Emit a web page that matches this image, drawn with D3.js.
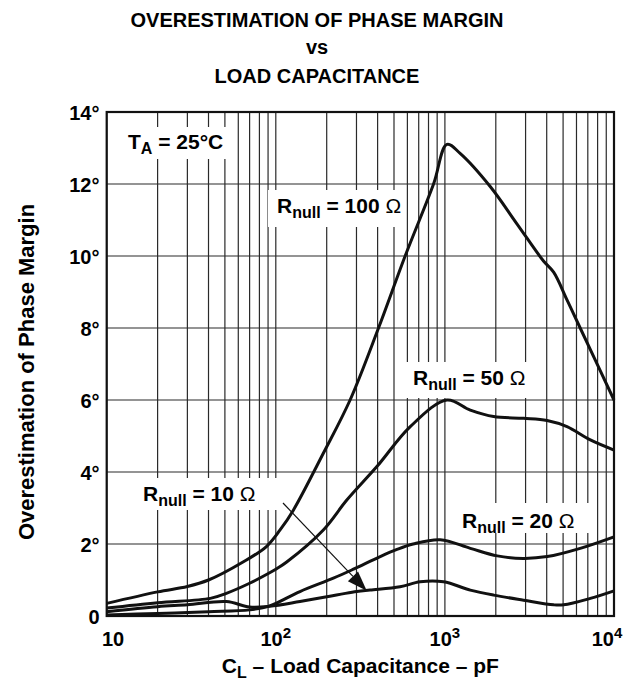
<!DOCTYPE html>
<html>
<head>
<meta charset="utf-8">
<script src="https://cdn.jsdelivr.net/npm/d3@7"></script>
<style>
  html, body { margin: 0; padding: 0; background: #fff; }
  svg { display: block; font-family: "Liberation Sans", Arial, Helvetica, sans-serif; font-weight: bold; }
</style>
</head>
<body>
<svg id="chart" width="634" height="683"></svg>
<script>
// Load capacitance (pF) and phase-margin overestimation (degrees) per null resistor
const cap100 = [10, 20, 30, 40, 64, 88, 106, 127, 191, 275, 405, 582, 857, 1028, 1230, 1853, 2679, 3828, 4395, 5272, 6310, 10000];
const pm100  = [0.35, 0.67, 0.82, 1.0, 1.5, 1.93, 2.39, 2.94, 4.52, 6.0, 8.0, 10.0, 12.0, 13.1, 12.85, 11.93, 10.88, 9.86, 9.55, 8.78, 8.0, 6.0];

const cap50 = [10, 20, 41, 51, 70, 92, 100, 116, 191, 263, 396, 624, 1028, 1413, 1941, 2917, 4018, 5272, 7244, 10000];
const pm50  = [0.22, 0.37, 0.49, 0.63, 0.91, 1.2, 1.3, 1.5, 2.39, 3.22, 4.15, 5.26, 6.0, 5.72, 5.54, 5.49, 5.43, 5.26, 4.89, 4.61];

const cap20 = [10, 20, 40, 70, 92, 139, 219, 288, 414, 521, 649, 938, 1413, 2042, 2904, 4027, 6310, 10000];
const pm20  = [0.03, 0.07, 0.12, 0.17, 0.28, 0.68, 1.05, 1.3, 1.65, 1.85, 2.0, 2.12, 1.88, 1.67, 1.6, 1.65, 1.88, 2.2];

const cap10 = [10, 20, 30, 51, 70, 92, 139, 301, 361, 543, 714, 982, 1413, 1941, 2917, 4395, 5035, 7244, 10000];
const pm10  = [0.12, 0.26, 0.31, 0.4, 0.25, 0.27, 0.4, 0.68, 0.72, 0.81, 0.95, 0.95, 0.72, 0.58, 0.44, 0.31, 0.31, 0.49, 0.70];

const yTicks = [0, 2, 4, 6, 8, 10, 12, 14];
const xDecades = [10, 100, 1000, 10000];
const xExponents = ["", "2", "3", "4"];

const svg = d3.select("#chart");
const plotL = 106.7, plotR = 614, plotT = 112, plotB = 616;
const plotMid = (plotL + plotR) / 2;

const x = d3.scaleLog().domain([10, 10000]).range([plotL, plotR]);
const y = d3.scaleLinear().domain([0, 14]).range([plotB, plotT]);

// Minor and major vertical grid (1..9 per decade)
const gridX = [];
for (let d = 10; d < 10000; d *= 10) for (let k = 1; k < 10; k++) gridX.push(d * k);
gridX.push(10000);

const grid = svg.append("g").attr("stroke", "#2a2a2a").attr("stroke-width", 1.2);
grid.selectAll("line.v").data(gridX).join("line").attr("class", "v")
  .attr("x1", d => x(d)).attr("x2", d => x(d)).attr("y1", plotT).attr("y2", plotB);
grid.selectAll("line.h").data(yTicks).join("line").attr("class", "h")
  .attr("x1", plotL).attr("x2", plotR).attr("y1", d => y(d)).attr("y2", d => y(d));

// White boxes that clear the grid behind the annotations
const boxes = [
  [120, 127, 114, 32],
  [268, 190, 138, 37],
  [405, 362, 136, 36],
  [132, 478, 146, 32],
  [452, 503, 138, 30]
];
svg.append("g").selectAll("rect").data(boxes).join("rect")
  .attr("x", d => d[0]).attr("y", d => d[1]).attr("width", d => d[2]).attr("height", d => d[3])
  .attr("fill", "#fff");

// Frame
svg.append("rect").attr("x", plotL).attr("y", plotT).attr("width", plotR - plotL).attr("height", plotB - plotT)
  .attr("fill", "none").attr("stroke", "#111").attr("stroke-width", 2.2);

// Curves
const line = d3.line().x(d => x(d[0])).y(d => y(d[1])).curve(d3.curveCatmullRom.alpha(0.5));
const series = [[cap100, pm100], [cap50, pm50], [cap20, pm20], [cap10, pm10]];
svg.append("g").selectAll("path").data(series).join("path")
  .attr("d", s => line(s[0].map((c, i) => [c, s[1][i]])))
  .attr("fill", "none").attr("stroke", "#111").attr("stroke-width", 3).attr("stroke-linejoin", "round");

// Pointer from the 10 ohm label to its curve
const ax0 = 283, ay0 = 503, ax1 = x(345), ay1 = y(0.7);
const ang = Math.atan2(ay1 - ay0, ax1 - ax0);
const hl = 20, hw = 7;
const bx = ax1 - hl * Math.cos(ang), by = ay1 - hl * Math.sin(ang);
svg.append("line").attr("x1", ax0).attr("y1", ay0).attr("x2", bx).attr("y2", by)
  .attr("stroke", "#111").attr("stroke-width", 1.2);
svg.append("path")
  .attr("d", `M${ax1},${ay1}L${bx + hw * Math.sin(ang)},${by - hw * Math.cos(ang)}L${bx - hw * Math.sin(ang)},${by + hw * Math.cos(ang)}Z`)
  .attr("fill", "#111");

// Y tick labels
svg.append("g").selectAll("text").data(yTicks).join("text")
  .attr("x", 99.5).attr("y", d => y(d) + 7.5).attr("text-anchor", "end").attr("font-size", 20)
  .text(d => d === 0 ? "0" : d + "°");

// X tick labels with exponents
const xt = svg.append("g").attr("font-size", 20);
const xLabelPos = [113, x(100), x(1000), 607];
xDecades.forEach((d, i) => {
  const t = xt.append("text").attr("x", xLabelPos[i]).attr("y", 646).attr("text-anchor", "middle");
  t.append("tspan").text("10");
  if (xExponents[i]) t.append("tspan").attr("dy", -8).attr("font-size", 15).text(xExponents[i]);
});

// Titles
const title = svg.append("g").attr("text-anchor", "middle").attr("font-size", 20);
title.append("text").attr("x", 317).attr("y", 27).text("OVERESTIMATION OF PHASE MARGIN");
title.append("text").attr("x", 317).attr("y", 54).text("vs");
title.append("text").attr("x", 317).attr("y", 83).text("LOAD CAPACITANCE");

// Axis titles
const xl = svg.append("text").attr("x", plotMid).attr("y", 673).attr("text-anchor", "middle").attr("font-size", 21);
xl.append("tspan").text("C");
xl.append("tspan").attr("font-size", 16).attr("dy", 5).text("L");
xl.append("tspan").attr("dy", -5).text(" – Load Capacitance – pF");

svg.append("text").attr("transform", "translate(34,372) rotate(-90)").attr("text-anchor", "middle")
  .attr("font-size", 22).text("Overestimation of Phase Margin");

// Annotations
function label(px, py, main, sub, rest, omega) {
  const t = svg.append("text").attr("x", px).attr("y", py).attr("font-size", 21);
  t.append("tspan").text(main);
  t.append("tspan").attr("font-size", 16).attr("dy", 5).text(sub);
  t.append("tspan").attr("dy", -5).text(rest);
  if (omega) t.append("tspan").attr("font-weight", "normal").text("Ω");
}
label(128, 149, "T", "A", " = 25°C", false);
label(277, 213, "R", "null", " = 100 ", true);
label(413, 385, "R", "null", " = 50 ", true);
label(143, 501, "R", "null", " = 10 ", true);
label(462, 528, "R", "null", " = 20 ", true);
</script>
</body>
</html>
